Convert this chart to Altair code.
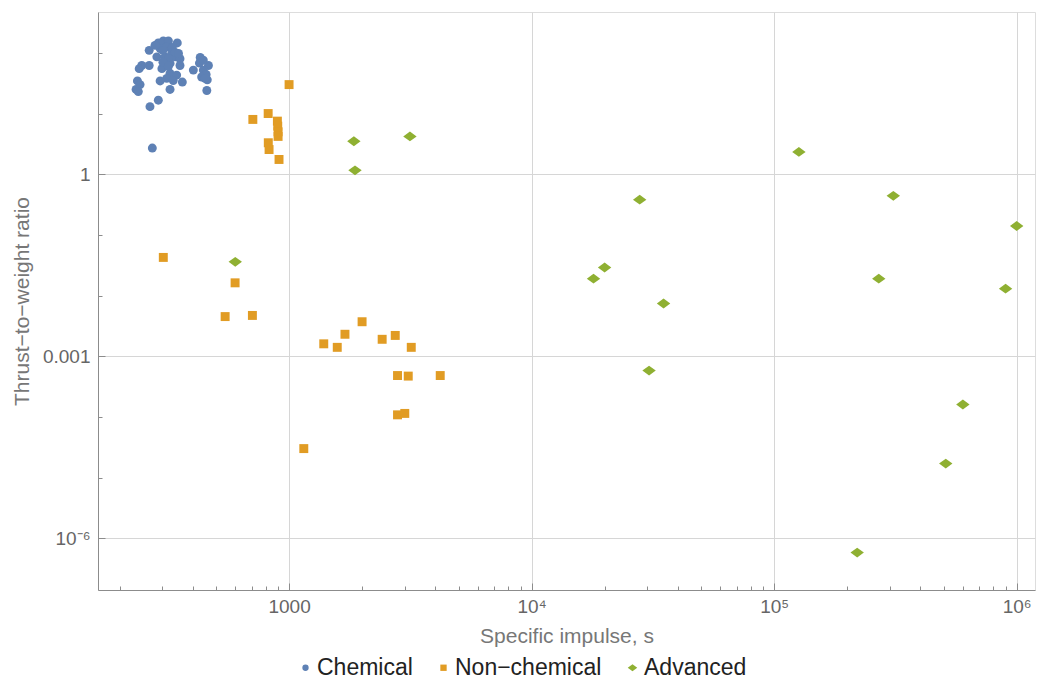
import altair as alt
import pandas as pd

# ---------------- data ----------------
chem_isp = [265, 289, 303, 318, 346, 294, 313, 328, 285, 308, 339, 355, 247, 265, 241,
            299, 323, 355, 430, 427, 465, 403, 443, 455, 323, 344, 313, 294, 333, 363,
            237, 243, 234, 239, 323, 436, 460, 458, 289, 267, 273, 302, 330, 339, 318,
            350, 302, 443, 318, 450, 280]
chem_twr = [110, 146, 157, 157, 146, 118, 125, 97, 86, 86, 86, 80, 62, 62, 55,
            55, 67, 62, 84, 68, 62, 52, 52, 44, 46, 43, 38, 34.5, 35, 33,
            34.5, 30, 25, 23, 25, 40, 36, 24, 16.6, 13, 2.7, 110, 123, 102, 81,
            98, 70, 76, 60, 38, 133]

nonchem_isp = [1000, 820, 709, 895, 898, 901, 901, 821, 827, 909, 303, 599, 545, 706,
               2000, 1700, 1390, 1580, 2420, 2740, 3190, 2800, 3100, 4200, 2800, 3000, 1150]
nonchem_twr = [30, 10, 8, 7.5, 6.2, 5.0, 4.2, 3.3, 2.55, 1.75, 0.0425, 0.0162, 0.0045, 0.0047,
               0.0037, 0.0023, 0.0016, 0.0014, 0.0019, 0.0022, 0.0014, 0.00048, 0.00047,
               0.00048, 0.000108, 0.000114, 3.0e-5]

adv_isp = [1850, 3150, 1870, 600, 126500, 27900, 310000, 1000000, 20000, 18000, 35000,
           270000, 900000, 30500, 600000, 510000, 220000]
adv_twr = [3.5, 4.2, 1.16, 0.036, 2.33, 0.38, 0.44, 0.14, 0.029, 0.019, 0.0074,
           0.019, 0.013, 0.00058, 0.00016, 1.7e-5, 5.8e-7]

categories = ["Chemical", "Non\u2212chemical", "Advanced"]
colors = ["#5E81B5", "#E19C24", "#8FB032"]
shapes = ["circle", "square", "M-1.5,0L0,-1.1L1.5,0L0,1.1Z"]

x_major = [1000, 10000, 100000, 1000000]
x_minor = [200, 300, 400, 500, 600, 700, 800, 900,
           2000, 3000, 4000, 5000, 6000, 7000, 8000, 9000,
           20000, 30000, 40000, 50000, 60000, 70000, 80000, 90000,
           200000, 300000, 400000, 500000, 600000, 700000, 800000, 900000]
y_major = [1e-6, 0.001, 1]
y_minor = [1e-7, 1e-5, 1e-4, 0.01, 0.1, 10, 100]

df = pd.concat([
    pd.DataFrame({"isp": chem_isp, "twr": chem_twr, "type": categories[0]}),
    pd.DataFrame({"isp": nonchem_isp, "twr": nonchem_twr, "type": categories[1]}),
    pd.DataFrame({"isp": adv_isp, "twr": adv_twr, "type": categories[2]}),
], ignore_index=True)

FONT = "Liberation Sans"
AX = "#8c8c8c"
xscale = alt.Scale(type="log", domain=[163, 1.19e6], nice=False)
yscale = alt.Scale(type="log", domain=[1.4e-7, 472], nice=False)

x_label_expr = ("datum.value == 1000 ? '1000' : datum.value == 10000 ? '10\u2074' : "
                "datum.value == 100000 ? '10\u2075' : '10\u2076'")
y_label_expr = ("datum.value == 1 ? '1' : datum.value == 0.001 ? '0.001' : '10\u207B\u2076'")

legend_kw = dict(title=None, orient="none", direction="horizontal", columns=3,
                 legendX=196, legendY=644, labelFont=FONT, labelFontSize=23,
                 labelColor="#222222", symbolSize=40, columnPadding=19, labelOffset=0)

points = alt.Chart(df).mark_point(filled=True, opacity=1, size=80).encode(
    x=alt.X("isp:Q", scale=xscale,
            axis=alt.Axis(values=x_major, labelExpr=x_label_expr, orient="bottom",
                          title="Specific impulse, s", grid=True, gridColor="#d6d6d6",
                          gridWidth=1, domainColor=AX, tickColor=AX,
                          tickSize={"expr": "-7"}, labelPadding=14,
                          labelFont=FONT, labelFontSize=19, labelColor="#666666",
                          titleFont=FONT, titleFontSize=21, titleColor="#777777",
                          titleFontWeight="normal", titlePadding=9,
                          labelFlush=False, labelOverlap=False)),
    y=alt.Y("twr:Q", scale=yscale,
            axis=alt.Axis(values=y_major, labelExpr=y_label_expr, orient="left",
                          title="Thrust\u2212to\u2212weight ratio", grid=True,
                          gridColor="#d6d6d6", gridWidth=1, domainColor=AX, tickColor=AX,
                          tickSize={"expr": "-7"}, labelPadding=15,
                          labelFont=FONT, labelFontSize=19, labelColor="#666666",
                          titleFont=FONT, titleFontSize=21, titleColor="#777777",
                          titleFontWeight="normal", titlePadding=10,
                          labelFlush=False, labelOverlap=False)),
    color=alt.Color("type:N", scale=alt.Scale(domain=categories, range=colors),
                    legend=alt.Legend(**legend_kw)),
    shape=alt.Shape("type:N", scale=alt.Scale(domain=categories, range=shapes),
                    legend=alt.Legend(**legend_kw)),
)

minor = alt.Chart(df).mark_point(opacity=0).encode(
    x=alt.X("isp:Q", scale=xscale,
            axis=alt.Axis(values=x_minor, labels=False, grid=False, domain=False,
                          orient="bottom", title=None, tickColor=AX,
                          tickSize={"expr": "-4"})),
    y=alt.Y("twr:Q", scale=yscale,
            axis=alt.Axis(values=y_minor, labels=False, grid=False, domain=False,
                          orient="left", title=None, tickColor=AX,
                          tickSize={"expr": "-4"})),
)

chart = alt.layer(points, minor).resolve_axis(
    x="independent", y="independent"
).properties(
    width=937, height=578,
    autosize=alt.AutoSizeParams(type="none"),
    padding={"left": 98, "top": 12, "right": 2, "bottom": 90},
).configure_view(strokeWidth=0).configure(background="white")

chart.save("out.html", embed_options={"renderer": "svg", "actions": False})
